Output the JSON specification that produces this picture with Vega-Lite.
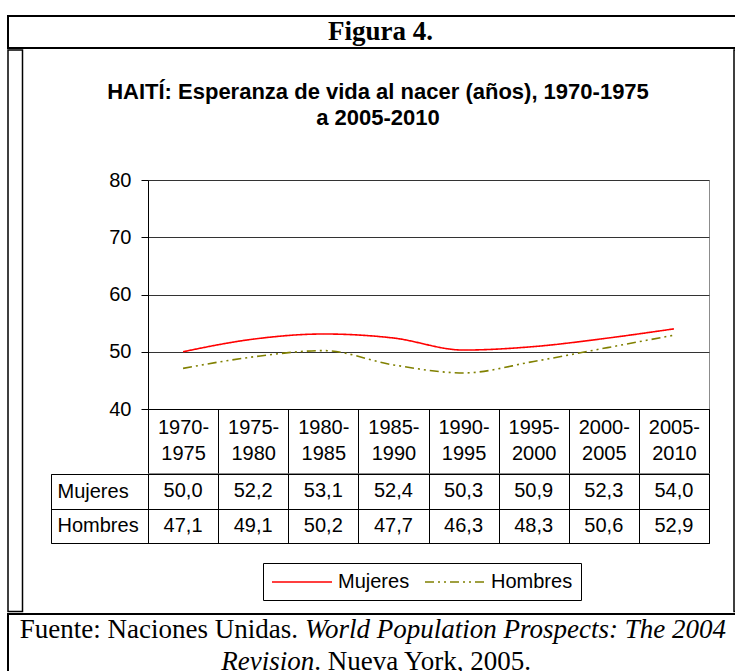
{
  "$schema": "https://vega.github.io/schema/vega-lite/v6.json",
  "padding": {"left": 7, "top": 15, "right": 0, "bottom": 0},
  "background": "white",
  "spacing": 0,
  "bounds": "full",
  "config": {
    "font": "Liberation Sans",
    "view": {"stroke": null},
    "locale": {"number": {"decimal": ",", "thousands": ".", "grouping": [3], "currency": ["", ""]}},
    "text": {"color": "black"},
    "axis": {"labelColor": "black", "labelFont": "Liberation Sans", "labelFontSize": 20}
  },
  "datasets": {
    "vida": [
      {"periodo": "1970-1975", "sexo": "Mujeres", "valor": 50.0},
      {"periodo": "1975-1980", "sexo": "Mujeres", "valor": 52.2},
      {"periodo": "1980-1985", "sexo": "Mujeres", "valor": 53.1},
      {"periodo": "1985-1990", "sexo": "Mujeres", "valor": 52.4},
      {"periodo": "1990-1995", "sexo": "Mujeres", "valor": 50.3},
      {"periodo": "1995-2000", "sexo": "Mujeres", "valor": 50.9},
      {"periodo": "2000-2005", "sexo": "Mujeres", "valor": 52.3},
      {"periodo": "2005-2010", "sexo": "Mujeres", "valor": 54.0},
      {"periodo": "1970-1975", "sexo": "Hombres", "valor": 47.1},
      {"periodo": "1975-1980", "sexo": "Hombres", "valor": 49.1},
      {"periodo": "1980-1985", "sexo": "Hombres", "valor": 50.2},
      {"periodo": "1985-1990", "sexo": "Hombres", "valor": 47.7},
      {"periodo": "1990-1995", "sexo": "Hombres", "valor": 46.3},
      {"periodo": "1995-2000", "sexo": "Hombres", "valor": 48.3},
      {"periodo": "2000-2005", "sexo": "Hombres", "valor": 50.6},
      {"periodo": "2005-2010", "sexo": "Hombres", "valor": 52.9}
    ]
  },
  "vconcat": [
    {
      "width": 745, "height": 32,
      "view": {"stroke": "black", "strokeWidth": 2},
      "data": {"values": [{"t": "Figura 4."}]},
      "mark": {"type": "text", "font": "Liberation Serif", "fontSize": 27, "fontWeight": "bold", "align": "center", "baseline": "middle"},
      "encoding": {"text": {"field": "t"}}
    },
    {
      "hconcat": [
        {
          "width": 14.5, "height": 561.5,
          "view": {"stroke": "black", "strokeWidth": 1.5},
          "data": {"values": [{}]}, "mark": "text", "encoding": {"text": {"value": ""}}
        },
        {
          "vconcat": [
            {
              "width": 708, "height": 84,
              "data": {"values": [{}]},
              "mark": {"type": "text", "fontSize": 22, "fontWeight": "bold", "lineHeight": 26, "align": "center", "baseline": "middle"},
              "encoding": {"text": {"value": ["HAITÍ: Esperanza de vida al nacer (años), 1970-1975", "a 2005-2010"]}}
            },
            {
              "width": 708, "height": 46,
              "data": {"values": [{}]}, "mark": "text", "encoding": {"text": {"value": ""}}
            },
            {
              "hconcat": [
                {
                  "width": 123.5, "height": 293,
                  "data": {"values": [{}]}, "mark": "text", "encoding": {"text": {"value": ""}}
                },
                {
                  "width": 561, "height": 293,
                  "view": {"stroke": "#8c8c8c", "strokeWidth": 1},
                  "data": {"name": "vida"},
                  "mark": {"type": "line", "interpolate": "monotone", "strokeWidth": 1.6},
                  "encoding": {
                    "x": {
                      "field": "periodo", "type": "nominal", "sort": null, "bandPosition": 0.5,
                      "scale": {"type": "band", "paddingInner": 0, "paddingOuter": 0},
                      "axis": {
                        "title": null, "offset": -64, "domain": true, "domainColor": "black", "ticks": true,
                        "tickBand": "extent", "tickSize": 64, "tickColor": "black",
                        "labelExpr": "[slice(datum.label,0,5), slice(datum.label,5)]",
                        "labelAngle": 0, "labelPadding": -56, "labelLineHeight": 26,
                        "labelOverlap": false, "labelBaseline": "top", "grid": false
                      }
                    },
                    "y": {
                      "field": "valor", "type": "quantitative",
                      "scale": {"domain": [40, 80], "range": [229, 0], "nice": false, "zero": false},
                      "axis": {
                        "title": null, "values": [40, 50, 60, 70, 80], "tickSize": 7,
                        "tickColor": "black", "domainColor": "black", "labelPadding": 10,
                        "grid": true, "gridColor": "#333333"
                      }
                    },
                    "color": {
                      "field": "sexo", "type": "nominal",
                      "scale": {"domain": ["Mujeres", "Hombres"], "range": ["#ff0000", "#808000"]},
                      "legend": {
                        "title": null, "orient": "none", "legendX": 255, "legendY": 547,
                        "direction": "horizontal", "strokeColor": "black", "padding": 8,
                        "symbolType": "M-1,0H5", "symbolSize": 400, "symbolStrokeWidth": 1.6,
                        "labelFontSize": 20, "labelColor": "black", "labelOffset": 45,
                        "columnPadding": 11, "labelLimit": 200
                      }
                    },
                    "strokeDash": {
                      "field": "sexo", "type": "nominal",
                      "scale": {"domain": ["Mujeres", "Hombres"], "range": [[1, 0], [9, 4, 2, 4, 2, 4]]},
                      "legend": {
                        "title": null, "orient": "none", "legendX": 255, "legendY": 547,
                        "direction": "horizontal", "strokeColor": "black", "padding": 8,
                        "symbolType": "M-1,0H5", "symbolSize": 400, "symbolStrokeWidth": 1.6,
                        "labelFontSize": 20, "labelColor": "black", "labelOffset": 45,
                        "columnPadding": 11, "labelLimit": 200
                      }
                    }
                  }
                },
                {
                  "width": 23.5, "height": 293,
                  "data": {"values": [{}]}, "mark": "text", "encoding": {"text": {"value": ""}}
                }
              ],
              "spacing": 0, "bounds": "flush"
            },
            {
              "hconcat": [
                {
                  "width": 26.5, "height": 69,
                  "data": {"values": [{}]}, "mark": "text", "encoding": {"text": {"value": ""}}
                },
                {
                  "width": 97, "height": 69,
                  "view": {"stroke": "black", "strokeWidth": 1},
                  "data": {"name": "vida"},
                  "mark": {"type": "text"},
                  "encoding": {
                    "y": {
                      "field": "sexo", "type": "nominal", "sort": ["Mujeres", "Hombres"],
                      "scale": {"type": "band", "paddingInner": 0, "paddingOuter": 0},
                      "axis": {
                        "title": null, "domain": false, "ticks": false, "grid": true,
                        "gridColor": "black", "tickBand": "extent", "labelAlign": "left",
                        "labelPadding": -6, "labelBaseline": "middle", "labelFontSize": 20
                      }
                    },
                    "text": {"value": ""}
                  }
                },
                {
                  "width": 561, "height": 69,
                  "view": {"stroke": "black", "strokeWidth": 1},
                  "data": {"name": "vida"},
                  "mark": {"type": "text", "fontSize": 20, "baseline": "middle"},
                  "encoding": {
                    "x": {
                      "field": "periodo", "type": "nominal", "sort": null, "bandPosition": 0.5,
                      "scale": {"type": "band", "paddingInner": 0, "paddingOuter": 0},
                      "axis": {"title": null, "labels": false, "ticks": false, "domain": false, "grid": true, "gridColor": "black", "tickBand": "extent"}
                    },
                    "y": {
                      "field": "sexo", "type": "nominal", "sort": ["Mujeres", "Hombres"], "bandPosition": 0.5,
                      "scale": {"type": "band", "paddingInner": 0, "paddingOuter": 0},
                      "axis": {"title": null, "labels": false, "ticks": false, "domain": false, "grid": true, "gridColor": "black", "tickBand": "extent"}
                    },
                    "text": {"field": "valor", "type": "quantitative", "format": ".1f"}
                  }
                },
                {
                  "width": 23.5, "height": 69,
                  "data": {"values": [{}]}, "mark": "text", "encoding": {"text": {"value": ""}}
                }
              ],
              "spacing": 0, "bounds": "flush"
            }
          ],
          "spacing": -12, "bounds": "full"
        },
        {
          "width": 22.5, "height": 561.5,
          "view": {"stroke": "black", "strokeWidth": 1.5},
          "data": {"values": [{}]}, "mark": "text", "encoding": {"text": {"value": ""}}
        }
      ],
      "spacing": 0, "bounds": "full"
    },
    {
      "width": 745, "height": 64,
      "view": {"stroke": "black", "strokeWidth": 2},
      "encoding": {
        "y": {"field": "linea", "type": "ordinal", "scale": {"type": "band", "domain": ["1", "2"], "paddingInner": 0, "paddingOuter": 0}, "axis": null}
      },
      "layer": [
        {
          "data": {"values": [{"linea": "1", "texto": "Fuente: Naciones Unidas."}]},
          "mark": {"type": "text", "font": "Liberation Serif", "fontSize": 27, "align": "right", "baseline": "middle", "dx": -82.5},
          "encoding": {"text": {"field": "texto"}}
        },
        {
          "data": {"values": [{"linea": "1", "texto": "World Population Prospects: The 2004"}]},
          "mark": {"type": "text", "font": "Liberation Serif", "fontSize": 27, "fontStyle": "italic", "align": "left", "baseline": "middle", "dx": -75.6},
          "encoding": {"text": {"field": "texto"}}
        },
        {
          "data": {"values": [{"linea": "2", "texto": "Revision"}]},
          "mark": {"type": "text", "font": "Liberation Serif", "fontSize": 27, "fontStyle": "italic", "align": "right", "baseline": "middle", "dx": -66.2},
          "encoding": {"text": {"field": "texto"}}
        },
        {
          "data": {"values": [{"linea": "2", "texto": ". Nueva York, 2005."}]},
          "mark": {"type": "text", "font": "Liberation Serif", "fontSize": 27, "align": "left", "baseline": "middle", "dx": -66.2},
          "encoding": {"text": {"field": "texto"}}
        }
      ]
    }
  ]
}
